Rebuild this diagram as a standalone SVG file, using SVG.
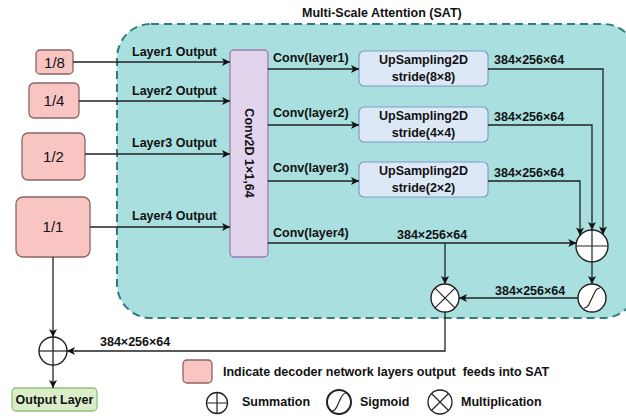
<svg xmlns="http://www.w3.org/2000/svg" width="626" height="418" viewBox="0 0 626 418">
  <defs>
    <marker id="arrow" viewBox="0 0 10 10" refX="10" refY="5" markerWidth="9" markerHeight="8" markerUnits="userSpaceOnUse" orient="auto">
      <path d="M0,0 L10,5 L0,10 L2.5,5 z" fill="#111"/>
    </marker>
  </defs>
  <style>
    text { font-family: "Liberation Sans", Arial, sans-serif; fill: #111; }
    .lbl { font-size: 12.5px; font-weight: bold; }
    .frac { font-size: 15px; }
    .pink { fill: #f8c5c3; stroke: #8c6464; stroke-width: 1.3; }
    .up { fill: #dde8f7; stroke: #7e9cc6; stroke-width: 1.2; }
    .wire { fill: none; stroke: #222; stroke-width: 1.3; }
    .arr { fill: none; stroke: #222; stroke-width: 1.3; marker-end: url(#arrow); }
    .op { fill: #fff; stroke: #222; stroke-width: 1.4; }
    .opline { stroke: #222; stroke-width: 1.2; fill: none; }
  </style>

  <!-- Multi-scale attention container -->
  <g id="sat">
    <rect x="117" y="24" width="520" height="294" rx="34" ry="34" fill="#a9dfdf" stroke="#2f7c7d" stroke-width="2" stroke-dasharray="8 5"/>
    <text class="lbl" x="302" y="17">Multi-Scale Attention (SAT)</text>
  </g>

  <!-- decoder outputs -->
  <g id="in-1-8">
    <rect class="pink" x="36" y="50" width="37" height="24" rx="4"/>
    <text class="frac" x="54.5" y="67.5" text-anchor="middle">1/8</text>
  </g>
  <g id="in-1-4">
    <rect class="pink" x="29" y="83" width="50" height="35" rx="5"/>
    <text class="frac" x="54" y="106" text-anchor="middle">1/4</text>
  </g>
  <g id="in-1-2">
    <rect class="pink" x="22" y="133" width="63" height="47" rx="6"/>
    <text class="frac" x="53.5" y="162" text-anchor="middle">1/2</text>
  </g>
  <g id="in-1-1">
    <rect class="pink" x="16" y="197" width="74" height="60" rx="7"/>
    <text class="frac" x="53" y="232" text-anchor="middle">1/1</text>
  </g>

  <!-- 1x1 convolution -->
  <g id="conv2d">
    <rect x="230" y="50" width="38" height="207" rx="4" fill="#e3d4ee" stroke="#9a7db2" stroke-width="1.3"/>
    <text class="lbl" transform="translate(244.5,153) rotate(90)" text-anchor="middle">Conv2D 1×1,64</text>
  </g>

  <!-- upsampling blocks -->
  <g id="up1">
    <rect class="up" x="359" y="51" width="129" height="35" rx="5"/>
    <text class="lbl" x="423.5" y="64" text-anchor="middle">UpSampling2D</text>
    <text class="lbl" x="423.5" y="81" text-anchor="middle">stride(8×8)</text>
  </g>
  <g id="up2">
    <rect class="up" x="359" y="107" width="129" height="35" rx="5"/>
    <text class="lbl" x="423.5" y="120" text-anchor="middle">UpSampling2D</text>
    <text class="lbl" x="423.5" y="137" text-anchor="middle">stride(4×4)</text>
  </g>
  <g id="up3">
    <rect class="up" x="359" y="162" width="129" height="35" rx="5"/>
    <text class="lbl" x="423.5" y="175" text-anchor="middle">UpSampling2D</text>
    <text class="lbl" x="423.5" y="192" text-anchor="middle">stride(2×2)</text>
  </g>

  <!-- operators -->
  <g id="sum-main">
    <circle class="op" cx="592" cy="246" r="16"/>
    <path class="opline" d="M576,246 H608 M592,230 V262"/>
  </g>
  <g id="sigmoid">
    <circle class="op" cx="592" cy="298" r="14" stroke-width="2.2"/>
    <path class="opline" stroke-width="1.3" d="M584,308 C588,308 589,304 592,298 C595,292 596,288 600,288"/>
  </g>
  <g id="multiply">
    <circle class="op" cx="445" cy="298" r="14"/>
    <path class="opline" d="M435.1,288.1 L454.9,307.9 M454.9,288.1 L435.1,307.9"/>
  </g>
  <g id="sum-out">
    <circle cx="53" cy="351" r="14" fill="none" stroke="#222" stroke-width="1.4"/>
    <path class="opline" d="M39,351 H67"/>
  </g>

  <g id="output-layer">
    <rect x="12" y="388" width="85" height="23" rx="4" fill="#d9edc9" stroke="#93c078" stroke-width="1.3"/>
    <text class="lbl" x="54.5" y="404" text-anchor="middle">Output Layer</text>
  </g>

  <!-- connectors -->
  <g id="connectors">
    <path class="arr" d="M73,62 H230"/>
    <path class="arr" d="M79,101 H230"/>
    <path class="arr" d="M85,154 H230"/>
    <path class="arr" d="M90,227 H230"/>
    <path class="arr" d="M268,69 H359"/>
    <path class="arr" d="M268,125 H359"/>
    <path class="arr" d="M268,181 H359"/>
    <path class="arr" d="M488,69 H603 V234.5"/>
    <path class="arr" d="M488,125 H592 V230"/>
    <path class="arr" d="M488,181 H580 V235.5"/>
    <path class="arr" d="M268,243 H576.3"/>
    <path class="arr" d="M445,243 V284"/>
    <path class="arr" d="M592,262 V284"/>
    <path class="arr" d="M578,298 H459"/>
    <path class="wire" d="M445,312 V351 H75"/>
    <path class="arr" d="M76,351 H67"/>
    <path class="arr" d="M53,257 V337"/>
    <path class="arr" d="M53,337 V388"/>

    <text class="lbl" x="132" y="56">Layer1 Output</text>
    <text class="lbl" x="132" y="95">Layer2 Output</text>
    <text class="lbl" x="132" y="147">Layer3 Output</text>
    <text class="lbl" x="132" y="220">Layer4 Output</text>
    <text class="lbl" x="273" y="62">Conv(layer1)</text>
    <text class="lbl" x="273" y="117">Conv(layer2)</text>
    <text class="lbl" x="273" y="172">Conv(layer3)</text>
    <text class="lbl" x="273" y="237">Conv(layer4)</text>
    <text class="lbl" x="494" y="64">384×256×64</text>
    <text class="lbl" x="494" y="121">384×256×64</text>
    <text class="lbl" x="494" y="177">384×256×64</text>
    <text class="lbl" x="397" y="239">384×256×64</text>
    <text class="lbl" x="495" y="295">384×256×64</text>
    <text class="lbl" x="100" y="346">384×256×64</text>
  </g>

  <!-- legend -->
  <g id="legend">
    <rect class="pink" x="183" y="360" width="29" height="23" rx="4"/>
    <text class="lbl" x="223" y="376" xml:space="preserve">Indicate decoder network layers output  feeds into SAT</text>
    <circle cx="217" cy="403" r="10.5" fill="none" stroke="#222" stroke-width="1.3"/>
    <path class="opline" d="M206.5,403 H227.5 M217,392.5 V413.5"/>
    <text class="lbl" x="242" y="406">Summation</text>
    <circle cx="339" cy="402" r="12" fill="none" stroke="#222" stroke-width="2"/>
    <path class="opline" stroke-width="1.3" d="M332,411 C336,411 337,406 339,402 C341,398 342,393 346,393"/>
    <text class="lbl" x="360" y="406">Sigmoid</text>
    <circle cx="440" cy="402" r="12" fill="none" stroke="#222" stroke-width="1.3"/>
    <path class="opline" d="M431.5,393.5 L448.5,410.5 M448.5,393.5 L431.5,410.5"/>
    <text class="lbl" x="461" y="406">Multiplication</text>
  </g>
</svg>
